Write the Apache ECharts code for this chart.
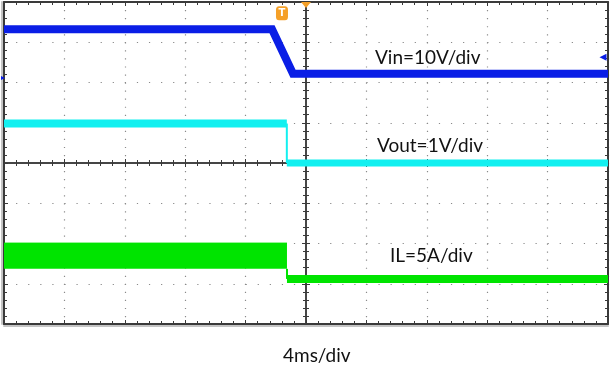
<!DOCTYPE html>
<html><head><meta charset="utf-8">
<script src="https://cdn.jsdelivr.net/npm/echarts@6/dist/echarts.min.js"></script>
<style>html,body{margin:0;padding:0;background:#fff}#c{width:610px;height:370px}</style>
</head><body><div id="c"></div>
<script>
// time axis in ms (4 ms/div), vertical values in screen divisions
const xTicks = [-20, -16, -12, -8, -4, 0, 4, 8, 12, 16, 20];
const vinTime = [-20, -2.25, -0.86, 20];
const vinDiv = [3.32, 3.32, 2.22, 2.22];
const voutTime = [-20, -1.27];
const voutHighDiv = [0.98, 0.98];
const voutDropDiv = [0.98, 0.0];
const voutLowTime = [-1.27, 20];
const voutLowDiv = [0.0, 0.0];
const ilHighTime = [-20, -1.26];
const ilRippleTop = [-1.99, -1.99];
const ilRippleBottom = -2.63;
const ilDropDiv = [-2.63, -2.88];
const ilLowTime = [-1.26, 20];
const ilLowDiv = [-2.88, -2.88];
const labels = ['Vin=10V/div', 'Vout=1V/div', 'IL=5A/div', '4ms/div'];

const pairs = (xs, ys) => xs.map((x, i) => [x, ys[i]]);
const blue = '#0a1ee6', cyan = '#12f0f0', green = '#00e400', orange = '#f5a028';
const dark = '#3a3a3a';

function xAx(pos, onZero, split, shadowY) {
  return {
    type: 'value', min: xTicks[0], max: xTicks[xTicks.length - 1], interval: 4, position: pos,
    axisLine: { show: true, onZero: onZero, onZeroAxisIndex: 0,
      lineStyle: { color: dark, width: onZero ? 1.5 : 2, shadowColor: shadowY ? '#c4c4c4' : 'transparent', shadowOffsetY: shadowY || 0, shadowBlur: 0 } },
    axisTick: { show: true, inside: true, length: 4, lineStyle: { color: dark } },
    minorTick: { show: true, splitNumber: 5, length: 3, lineStyle: { color: dark } },
    axisLabel: { show: false },
    splitLine: { show: split, lineStyle: { color: '#8a8a8a', width: 1.2, type: [1.2, 6.85] } }
  };
}
function yAx(pos, onZero, split, shadowX) {
  return {
    type: 'value', min: -4, max: 4, interval: 1, position: pos,
    axisLine: { show: true, onZero: onZero, onZeroAxisIndex: 0,
      lineStyle: { color: dark, width: onZero ? 1.5 : 2, shadowColor: shadowX ? '#c4c4c4' : 'transparent', shadowOffsetX: shadowX || 0, shadowBlur: 0 } },
    axisTick: { show: true, inside: true, length: 4, lineStyle: { color: dark } },
    minorTick: { show: true, splitNumber: 5, length: 3, lineStyle: { color: dark } },
    axisLabel: { show: false },
    splitLine: { show: split, lineStyle: { color: '#8a8a8a', width: 1.2, type: [1.2, 10.88] } }
  };
}

const chart = echarts.init(document.getElementById('c'), null, { renderer: 'canvas' });
const lineBase = { type: 'line', symbol: 'none', xAxisIndex: 0, yAxisIndex: 0, animation: false, z: 3 };
const txt = (s, l, t) => ({ type: 'text', left: l, top: t, style: { text: s, font: '19px Lato', fill: '#111' } });
chart.setOption({
  backgroundColor: '#fff',
  animation: false,
  grid: { left: 4, top: 2, right: 2, bottom: 46, show: false },
  xAxis: [xAx('bottom', false, true, 2), xAx('top', false, false, 0), xAx('bottom', true, false, 0), xAx('top', true, false, 0)],
  yAxis: [yAx('left', false, true, -2), yAx('right', false, false, 0), yAx('left', true, false, 0), yAx('right', true, false, 0)],
  series: [
    Object.assign({}, lineBase, {
      name: 'Vin', data: pairs(vinTime, vinDiv),
      lineStyle: { color: blue, width: 8, join: 'miter' },
      markPoint: {
        silent: true, animation: false,
        data: [
          { coord: [-1.59, 3.72], symbol: 'roundRect', symbolSize: [12, 14], itemStyle: { color: orange },
            label: { show: true, formatter: 'T', color: '#fff', fontSize: 10, fontWeight: 'bold', fontFamily: 'DejaVu Sans' } },
          { coord: [0, 4], symbol: 'triangle', symbolRotate: 180, symbolSize: [10, 6], symbolOffset: [0, 3], itemStyle: { color: orange }, label: { show: false } },
          { coord: [20, 2.63], symbol: 'triangle', symbolRotate: 90, symbolSize: [7, 7], symbolOffset: [-5, 0], itemStyle: { color: blue }, label: { show: false } },
          { coord: [-20, 2.11], symbol: 'triangle', symbolRotate: -90, symbolSize: [4, 4], symbolOffset: [-1, 0], itemStyle: { color: blue }, label: { show: false } }
        ]
      }
    }),
    Object.assign({}, lineBase, { name: 'VoutHigh', data: pairs(voutTime, voutHighDiv), lineStyle: { color: cyan, width: 8, cap: 'butt' } }),
    Object.assign({}, lineBase, { name: 'VoutDrop', data: pairs([voutTime[1], voutTime[1]], voutDropDiv), lineStyle: { color: cyan, width: 2 } }),
    Object.assign({}, lineBase, { name: 'VoutLow', data: pairs(voutLowTime, voutLowDiv), lineStyle: { color: cyan, width: 7, cap: 'butt' } }),
    Object.assign({}, lineBase, {
      name: 'ILHigh', data: pairs(ilHighTime, ilRippleTop),
      lineStyle: { color: green, width: 1 },
      areaStyle: { color: green, opacity: 1, origin: ilRippleBottom }
    }),
    Object.assign({}, lineBase, { name: 'ILDrop', data: pairs([ilHighTime[1], ilHighTime[1]], ilDropDiv), lineStyle: { color: green, width: 2 } }),
    Object.assign({}, lineBase, { name: 'ILLow', data: pairs(ilLowTime, ilLowDiv), lineStyle: { color: green, width: 8, cap: 'butt' } })
  ],
  graphic: [
    txt(labels[0], 375, 48),
    txt(labels[1], 377, 136),
    txt(labels[2], 390, 246),
    txt(labels[3], 283, 346)
  ]
});
</script></body></html>
